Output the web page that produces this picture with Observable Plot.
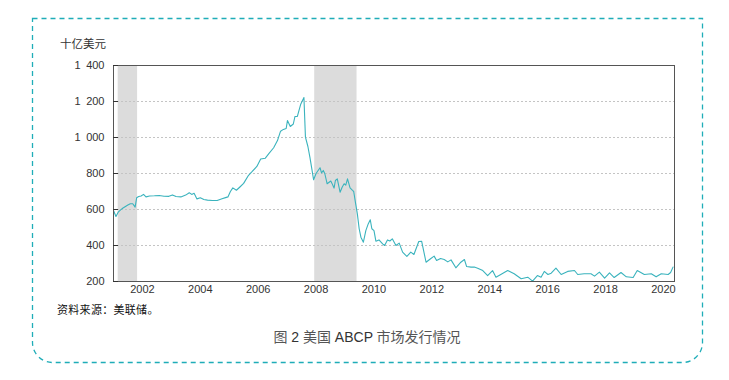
<!DOCTYPE html>
<html>
<head>
<meta charset="utf-8">
<script src="https://cdn.jsdelivr.net/npm/d3@7"></script>
<script src="https://cdn.jsdelivr.net/npm/@observablehq/plot@0.6"></script>
<style>
  html, body { margin: 0; padding: 0; background: #fff; }
  #chart { width: 729px; height: 380px; }
</style>
</head>
<body>
<div id="chart"></div>
<script>
const dates = [
  "2001-01-01","2001-02-01","2001-03-01","2001-04-01","2001-05-01","2001-06-01","2001-07-01","2001-08-01","2001-09-01","2001-10-01",
  "2001-10-20","2001-11-15","2001-12-15","2002-01-15","2002-02-15","2002-04-01","2002-06-01","2002-08-01","2002-10-01","2002-12-01",
  "2003-01-15","2003-03-01","2003-05-01","2003-07-01","2003-08-15","2003-09-15","2003-10-15","2003-11-20","2004-01-01","2004-02-15",
  "2004-04-01","2004-06-01","2004-08-01","2004-10-01","2004-11-15","2004-12-15","2005-01-15","2005-02-15","2005-04-01","2005-05-15",
  "2005-07-01","2005-09-01","2005-10-15","2005-12-15","2006-02-01","2006-04-01","2006-05-15","2006-07-15","2006-09-01","2006-10-10",
  "2006-11-15","2006-12-20","2007-01-05","2007-02-10","2007-03-20","2007-04-10","2007-05-10","2007-06-20","2007-08-01","2007-08-20",
  "2007-09-20","2007-10-15","2007-11-05","2007-12-01","2008-01-01","2008-02-20","2008-03-10","2008-04-01","2008-04-20","2008-05-20",
  "2008-07-05","2008-07-20","2008-08-15","2008-09-01","2008-09-25","2008-10-30","2008-11-25","2008-12-20","2009-01-10","2009-02-01",
  "2009-03-05","2009-04-05","2009-04-20","2009-05-15","2009-06-05","2009-06-28","2009-07-20","2009-08-20","2009-09-20","2009-10-20",
  "2009-11-15","2009-12-05","2010-01-01","2010-01-25","2010-03-05","2010-04-20","2010-05-15","2010-06-20","2010-07-20","2010-08-20",
  "2010-10-05","2010-11-15","2010-12-28","2011-02-20","2011-04-10","2011-05-20","2011-07-20","2011-08-25","2011-10-20","2011-12-20",
  "2012-01-30","2012-03-01","2012-04-20","2012-06-05","2012-07-20","2012-08-30","2012-10-30","2013-01-01","2013-02-15","2013-03-15",
  "2013-05-10","2013-06-20","2013-08-01","2013-10-05","2013-12-05","2014-02-05","2014-03-20","2014-05-20","2014-08-15","2014-11-05",
  "2015-02-01","2015-04-25","2015-06-25","2015-08-25","2015-10-10","2015-11-20","2016-01-05","2016-02-15","2016-04-15","2016-06-20",
  "2016-09-10","2016-12-05","2017-01-15","2017-04-05","2017-07-01","2017-08-15","2017-10-15","2017-12-20","2018-02-20","2018-04-20",
  "2018-07-15","2018-09-20","2018-12-15","2019-02-05","2019-05-05","2019-08-01","2019-10-01","2019-12-05","2020-03-01","2020-04-01",
  "2020-05-01"
];
const values = [
  594,561,585,598,608,617,625,632,632,613,
  665,672,675,684,670,675,676,678,674,673,
  681,672,670,680,693,684,690,659,665,656,
  652,650,650,660,666,670,700,720,707,725,
  745,790,810,839,881,885,910,943,983,1035,
  1045,1050,1094,1061,1075,1117,1117,1183,1222,1002,
  950,891,835,765,800,832,803,817,800,743,
  758,745,719,761,770,696,724,743,735,770,
  720,706,700,631,576,493,446,418,483,520,
  543,493,483,424,431,409,400,431,425,437,
  400,413,363,339,363,350,422,424,307,328,
  341,317,328,322,309,320,276,307,322,283,
  280,280,274,261,233,261,224,239,261,243,
  215,224,202,233,224,256,239,246,274,239,
  256,261,239,243,243,230,252,219,248,222,
  250,226,222,261,239,243,226,243,239,250,
  280
];
const recessionStart = ["2001-03-01", "2007-12-15"];
const recessionEnd = ["2001-11-01", "2009-06-01"];
const yTicks = [200, 400, 600, 800, 1000, 1200, 1400];
const xTickYears = [2002, 2004, 2006, 2008, 2010, 2012, 2014, 2016, 2018, 2020];
const xDomain = ["2001-01-01", "2020-05-20"];
const yDomain = [200, 1400];
const unitLabel = "十亿美元";
const sourceText = "资料来源：美联储。";
const captionParts = [["图 ", "#555"], ["2", "#333"], [" 美国 ", "#555"], ["ABCP", "#333"], [" 市场发行情况", "#555"]];

const data = dates.map((d, i) => ({date: new Date(d), value: values[i]}));
const recessions = recessionStart.map((s, i) => ({x1: new Date(s), x2: new Date(recessionEnd[i])}));
const xTicks = xTickYears.map(y => new Date(Date.UTC(y, 0, 1)));
const fmtY = d => d >= 1000 ? `${Math.floor(d / 1000)}\u2002${String(d % 1000).padStart(3, "0")}` : String(d);

const W = 729, H = 380;
const svg = Plot.plot({
  width: W, height: H,
  marginLeft: 113, marginRight: 55, marginTop: 65, marginBottom: 99,
  style: {fontFamily: "'Liberation Sans', Arial, sans-serif", fontSize: "11px", color: "#333", background: "transparent"},
  x: {type: "utc", domain: xDomain.map(d => new Date(d))},
  y: {domain: yDomain},
  marks: [
    Plot.rect(recessions, {x1: "x1", x2: "x2", y1: yDomain[0], y2: yDomain[1], fill: "#dcdcdc"}),
    Plot.gridY(yTicks.filter(v => v > yDomain[0] && v < yDomain[1]), {stroke: "#c4c4c4", strokeOpacity: 1, strokeDasharray: "2,2"}),
    Plot.line(data, {x: "date", y: "value", stroke: "#3ab3bd", strokeWidth: 1.1}),
    Plot.frame({stroke: "#555", strokeWidth: 1}),
    Plot.axisY(yTicks, {tickSize: 5, dx: 5, fill: "none", stroke: "#333"}),
    Plot.axisY(yTicks, {tickSize: 0, tickPadding: 9, tickFormat: fmtY, label: null, fill: "#333"}),
    Plot.axisX(xTicks, {tickSize: 0, tickPadding: 4, tickFormat: d => String(d.getUTCFullYear()), label: null, fill: "#333"})
  ]
});

const s = d3.select(svg);
// dashed border (square top corners, rounded bottom corners)
const L = 32.5, R = 702.5, T = 18.5, B = 362.5, r = 20;
s.insert("path", ":first-child")
  .attr("d", `M${L},${T}H${R}V${B - r}A${r},${r} 0 0 1 ${R - r},${B}H${L + r}A${r},${r} 0 0 1 ${L},${B - r}Z`)
  .attr("fill", "none").attr("stroke", "#1fadb8").attr("stroke-width", 1.3).attr("stroke-dasharray", "5,4");

s.append("text").attr("x", 60).attr("y", 48).attr("text-anchor", "start")
  .attr("font-family", "'Noto Sans CJK SC', sans-serif").attr("font-size", 11.5).attr("fill", "#333")
  .text(unitLabel);

s.append("text").attr("x", 57).attr("y", 314).attr("text-anchor", "start")
  .attr("font-family", "'Noto Sans CJK SC', serif").attr("font-size", 11).attr("font-weight", 400)
  .attr("letter-spacing", "0.3px").attr("fill", "#111")
  .text(sourceText);

const cap = s.append("text").attr("x", 367).attr("y", 342).attr("text-anchor", "middle")
  .attr("font-family", "'Liberation Sans', 'Noto Sans CJK SC', sans-serif").attr("font-size", 14);
captionParts.forEach(([t, c]) => cap.append("tspan").attr("fill", c).text(t));

document.getElementById("chart").appendChild(svg);
</script>
</body>
</html>
